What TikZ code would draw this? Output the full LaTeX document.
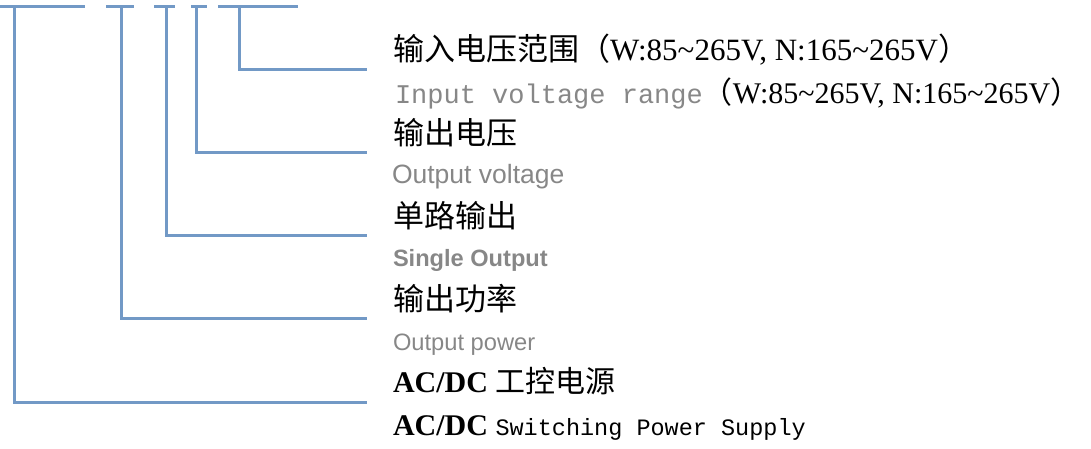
\documentclass[tikz,border=0pt]{standalone}
\usepackage{fontspec}
\setmainfont{Liberation Serif}
\newfontfamily\cjk{Noto Sans CJK SC}
\newfontfamily\monof{Liberation Mono}
\newfontfamily\arialf{Liberation Sans}
\definecolor{lineblue}{HTML}{7299C6}
\definecolor{greytext}{HTML}{878787}
\tikzset{
  conn/.style={draw=lineblue, line width=3pt},
  lbl/.style={anchor=base west, inner sep=0pt, outer sep=0pt},
}
\begin{document}
\begin{tikzpicture}[x=1pt,y=-1pt]
\useasboundingbox (0,0) rectangle (1091,448);
% top underline segments (model code, cut off above)
\coordinate (u1a) at (0,6);   \coordinate (u1b) at (85,6);
\coordinate (u2a) at (106,6); \coordinate (u2b) at (134,6);
\coordinate (u3a) at (154,6); \coordinate (u3b) at (175,6);
\coordinate (u4a) at (191,6); \coordinate (u4b) at (207,6);
\coordinate (u5a) at (218,6); \coordinate (u5b) at (298,6);
\foreach \i in {1,...,5} \draw[conn] (u\i a) -- (u\i b);
% branch tops
\coordinate (t1) at (14,6);
\coordinate (t2) at (121,6);
\coordinate (t3) at (166,6);
\coordinate (t4) at (196,6);
\coordinate (t5) at (239,6);
% branch ends
\coordinate (e5) at (367,69);
\coordinate (e4) at (367,152);
\coordinate (e3) at (367,235);
\coordinate (e2) at (367,318);
\coordinate (e1) at (367,402);
\foreach \i in {1,...,5} \draw[conn] (t\i) |- (e\i);
% labels
\node[lbl] (l1) at (393,60) {\fontsize{31}{31}\selectfont{\cjk 输入电压范围（}W:85\textasciitilde 265V, N:165\textasciitilde 265V{\cjk ）}};
\node[lbl] (l2) at (395,103) {\fontsize{30}{30}\selectfont{\fontsize{27}{27}\selectfont\monof\color{greytext}Input voltage range}{\cjk （}W:85\textasciitilde 265V, N:165\textasciitilde 265V\makebox[12pt][l]{\cjk ）}};
\node[lbl] (l3) at (393,144) {\fontsize{31}{31}\selectfont\cjk 输出电压};
\node[lbl, text=greytext] (l4) at (392,183) {\fontsize{26.5}{26.5}\selectfont\arialf Output voltage};
\node[lbl] (l5) at (393,227) {\fontsize{31}{31}\selectfont\cjk 单路输出};
\node[lbl, text=greytext] (l6) at (393,266) {\fontsize{23.6}{23.6}\selectfont\arialf\bfseries Single Output};
\node[lbl] (l7) at (393,310) {\fontsize{31}{31}\selectfont\cjk 输出功率};
\node[lbl, text=greytext] (l8) at (393,350) {\fontsize{23.7}{23.7}\selectfont\arialf Output power};
\node[lbl] (l9) at (393,392) {\fontsize{30}{30}\selectfont\textbf{AC/DC} {\cjk 工控电源}};
\node[lbl] (l10) at (393,435) {\fontsize{30}{30}\selectfont\textbf{AC/DC} {\fontsize{23.5}{23.5}\selectfont\monof Switching Power Supply}};
\end{tikzpicture}
\end{document}
